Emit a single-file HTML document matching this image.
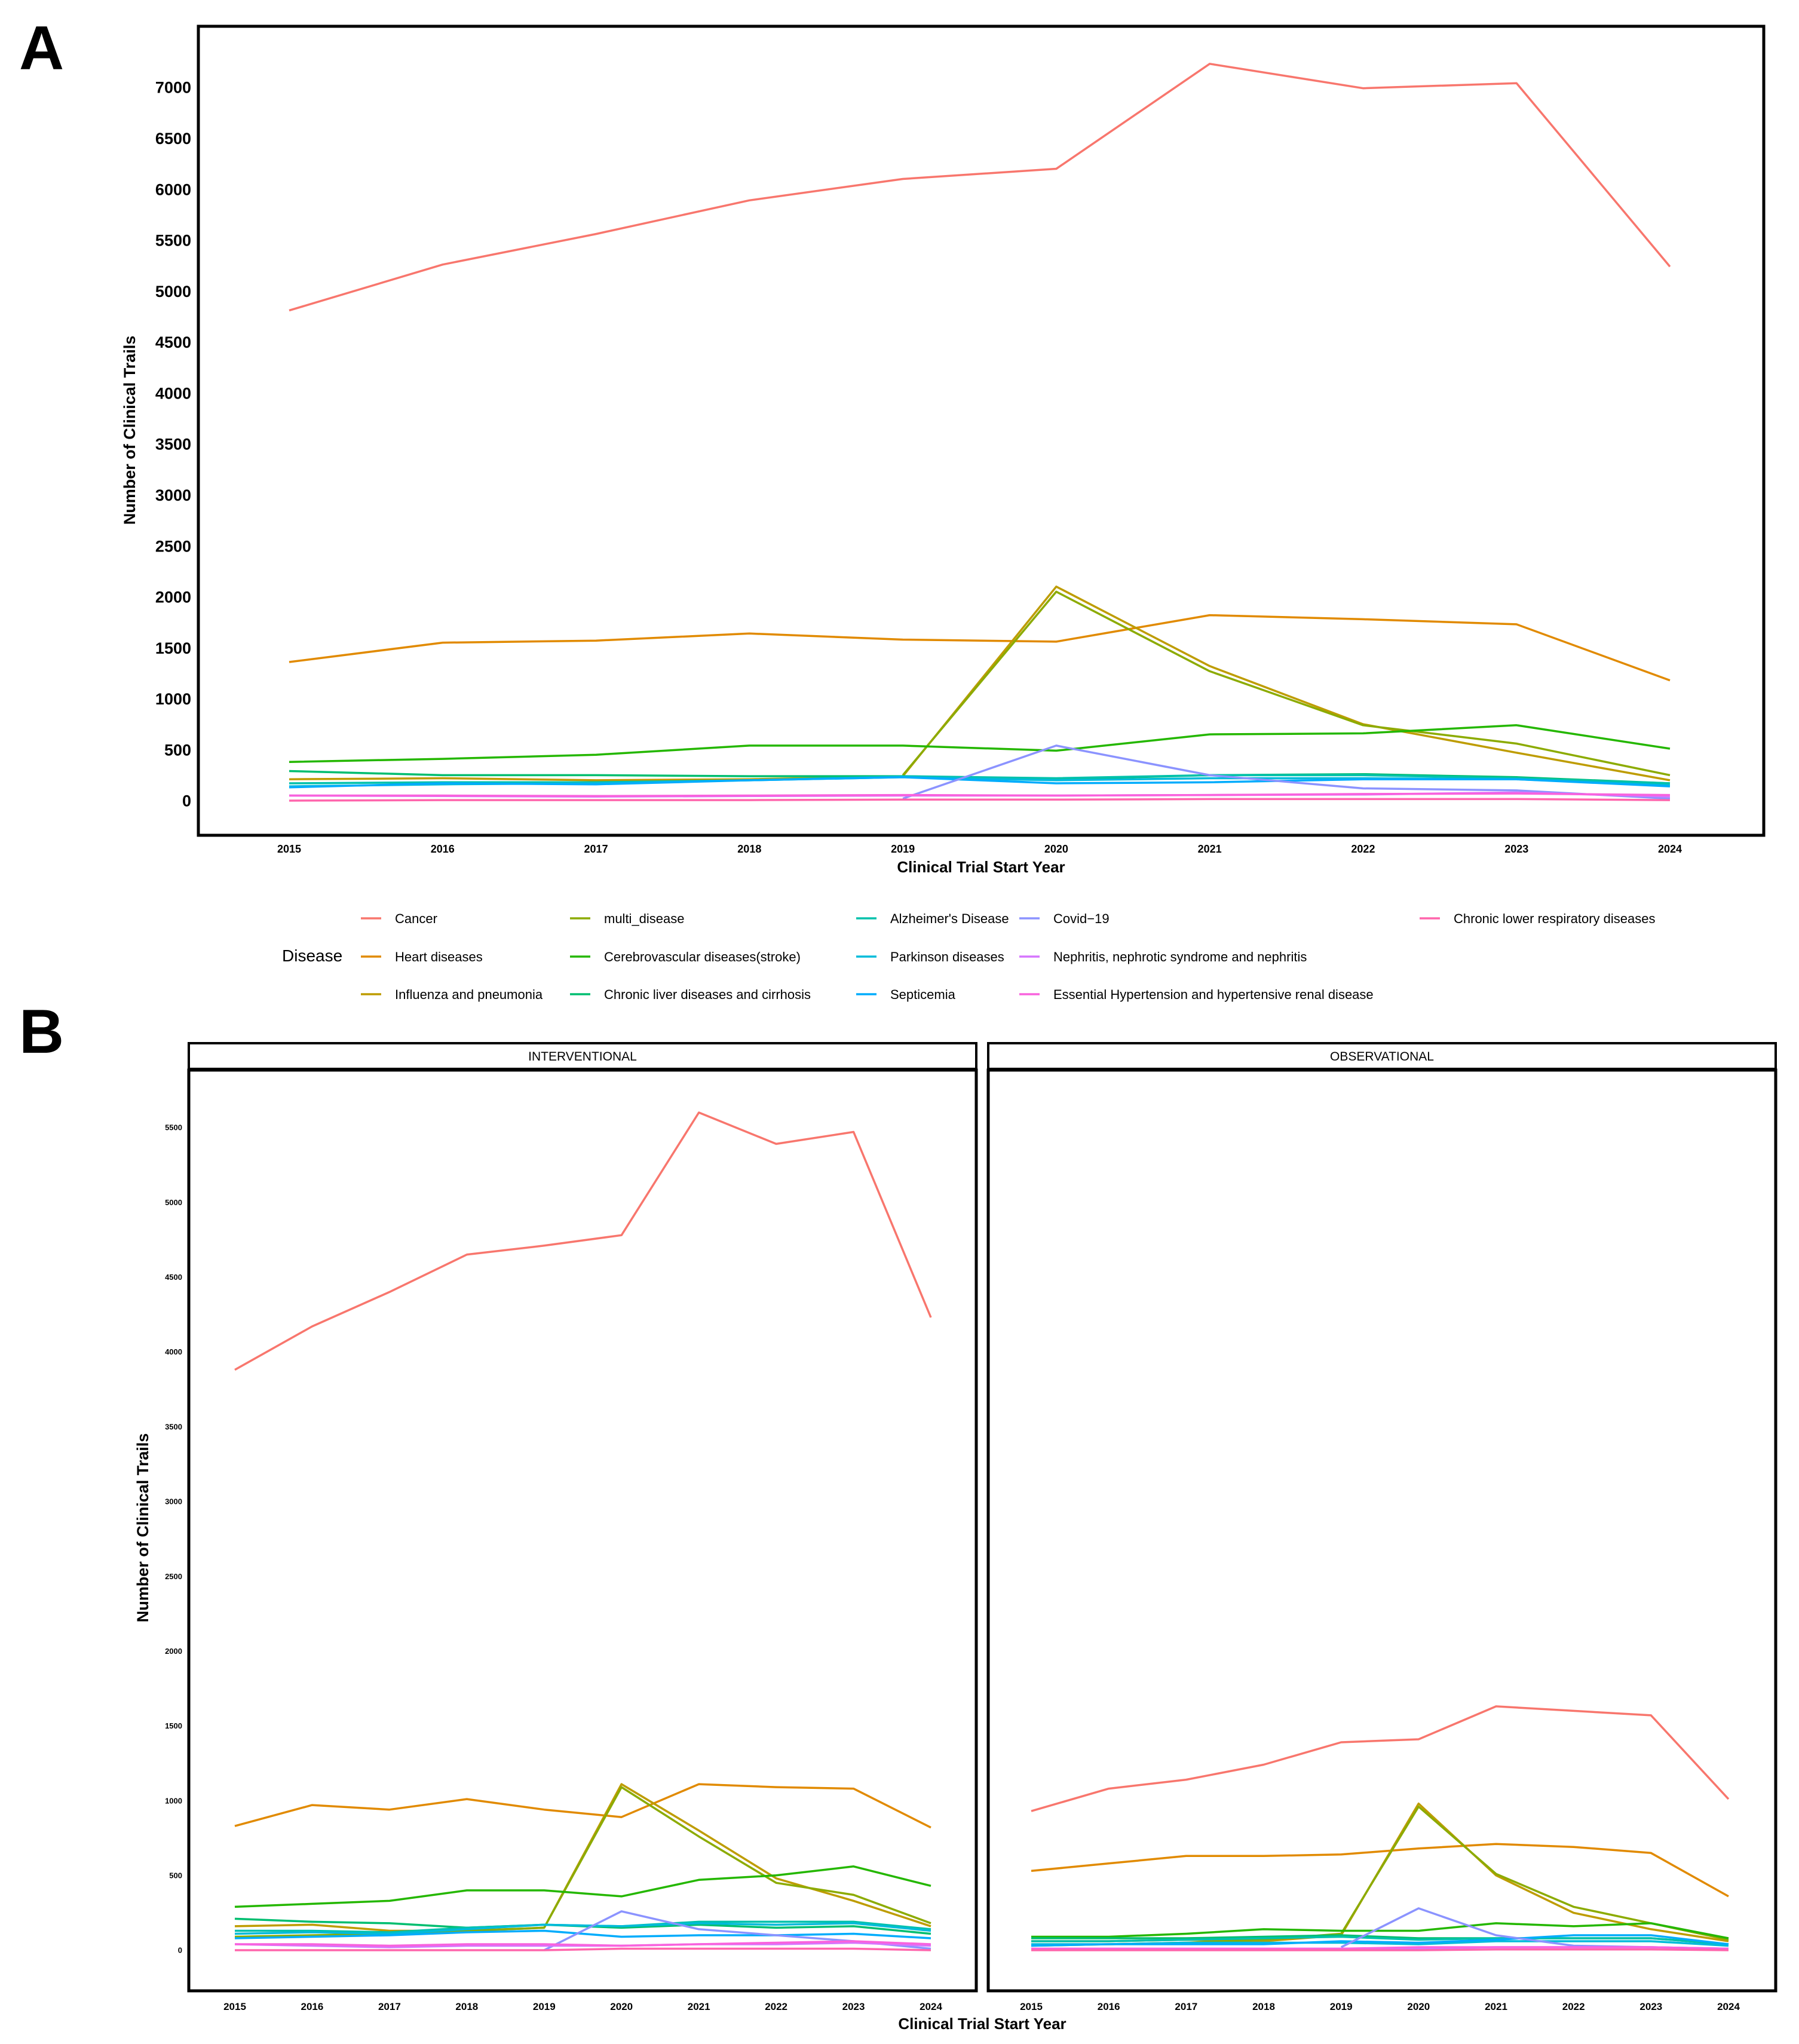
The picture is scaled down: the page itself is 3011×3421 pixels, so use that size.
<!DOCTYPE html>
<html><head><meta charset="utf-8"><style>
html,body{margin:0;padding:0;background:#fff}
svg{display:block;font-family:"Liberation Sans",sans-serif}
</style></head><body>
<svg id="c" width="3011" height="3421" viewBox="0 0 3011 3421" xmlns="http://www.w3.org/2000/svg"></svg>
<script>
const years=[2015,2016,2017,2018,2019,2020,2021,2022,2023,2024];
const diseases=["Cancer","Heart diseases","Influenza and pneumonia","multi_disease","Cerebrovascular diseases(stroke)","Chronic liver diseases and cirrhosis","Alzheimer's Disease","Parkinson diseases","Septicemia","Covid\u221219","Nephritis, nephrotic syndrome and nephritis","Essential Hypertension and hypertensive renal disease","Chronic lower respiratory diseases"];
const colors=["#F8766D","#E18A00","#BE9C00","#8CAB00","#24B700","#00BE70","#00C1AB","#00BBDA","#00ACFC","#8B93FF","#D575FE","#F962DD","#FF65AC"];
const N=null;
const allCancer=[4810,5260,5560,5890,6100,6200,7230,6990,7040,5240];
const allHeart=[1360,1550,1570,1640,1580,1560,1820,1780,1730,1180];
const allInfluenza=[210,220,200,210,240,2100,1320,750,470,200];
const allMulti=[N,N,N,N,250,2050,1270,740,560,250];
const allCerebro=[380,410,450,540,540,490,650,660,740,510];
const allLiver=[290,250,250,240,240,210,250,260,230,170];
const allAlz=[170,180,180,200,240,220,250,250,220,170];
const allPark=[140,160,170,200,230,200,220,220,210,150];
const allSept=[130,170,160,200,230,170,180,210,210,140];
const allCovid=[N,N,N,N,20,540,250,120,100,20];
const allNeph=[50,45,40,45,50,50,55,60,80,40];
const allHyp=[50,50,45,50,55,50,55,65,70,55];
const allResp=[0,5,5,5,10,10,15,15,15,5];
const intCancer=[3880,4170,4400,4650,4710,4780,5600,5390,5470,4230];
const intHeart=[830,970,940,1010,940,890,1110,1090,1080,820];
const intInfluenza=[160,170,130,130,150,1110,800,480,330,160];
const intMulti=[90,100,110,130,150,1090,760,450,370,180];
const intCerebro=[290,310,330,400,400,360,470,500,560,430];
const intLiver=[210,190,180,150,170,150,170,150,160,110];
const intAlz=[130,130,120,150,170,160,190,190,190,140];
const intPark=[110,120,110,140,170,160,180,170,180,130];
const intSept=[80,90,100,120,130,90,100,100,110,80];
const intCovid=[N,N,N,N,0,260,140,100,60,10];
const intNeph=[40,30,20,30,30,30,40,40,50,30];
const intHyp=[40,40,30,40,40,30,40,50,60,40];
const intResp=[0,0,0,0,0,10,10,10,10,0];
const obsCancer=[930,1080,1140,1240,1390,1410,1630,1600,1570,1010];
const obsHeart=[530,580,630,630,640,680,710,690,650,360];
const obsInfluenza=[60,60,70,60,100,980,500,250,140,60];
const obsMulti=[30,40,50,70,110,960,510,290,180,70];
const obsCerebro=[90,90,110,140,130,130,180,160,180,80];
const obsLiver=[80,80,80,90,100,80,80,80,80,40];
const obsAlz=[60,60,70,80,90,70,80,80,80,40];
const obsPark=[40,40,50,50,50,40,60,60,60,30];
const obsSept=[30,40,40,40,60,50,70,100,100,40];
const obsCovid=[N,N,N,N,20,280,100,30,20,10];
const obsNeph=[10,10,10,10,10,10,20,20,20,10];
const obsHyp=[10,10,10,10,10,20,20,20,20,10];
const obsResp=[0,0,0,0,0,0,5,5,5,0];
const ticksA=[0,500,1000,1500,2000,2500,3000,3500,4000,4500,5000,5500,6000,6500,7000];
const ticksB=[0,500,1000,1500,2000,2500,3000,3500,4000,4500,5000,5500];

const NS="http://www.w3.org/2000/svg";
const svg=document.getElementById('c');
function mk(tag,attrs,parent,text){const e=document.createElementNS(NS,tag);for(const k in attrs)e.setAttribute(k,attrs[k]);if(text!=null)e.textContent=text;(parent||svg).appendChild(e);return e;}

function panel(name,series,box,x0,x1,yv0,yvTop,vTop,ticks,tickFs,tickRight,xLabY,xFs){
  const g=mk('g',{});
  
  
  const xs=v=>x0+(years.indexOf(v))*(x1-x0)/(years.length-1);
  const ys=v=>yv0-v*(yv0-yvTop)/vTop;
  series.forEach((s,i)=>{
    let d='';let pen=false;
    s.forEach((v,j)=>{if(v==null){pen=false;return;}d+=(pen?'L':'M')+xs(years[j]).toFixed(1)+' '+ys(v).toFixed(1)+' ';pen=true;});
    const p=mk('path',{d:d,fill:'none',stroke:colors[i],'stroke-width':3.5,'stroke-linejoin':'round'},g);
    
    
  });
  mk('rect',{x:box[0],y:box[1],width:box[2]-box[0],height:box[3]-box[1],fill:'none',stroke:'#000','stroke-width':5},g);
  ticks.forEach(t=>{
    if(tickRight!=null){
      const tl=mk('text',{x:tickRight,y:ys(t)+tickFs*0.36,'font-size':tickFs,'font-weight':'bold','text-anchor':'end'},g,String(t));
      
      
    }
  });
  years.forEach(y=>{
    const tl=mk('text',{x:xs(y),y:xLabY,'font-size':xFs,'font-weight':'bold','text-anchor':'middle'},g,String(y));
    
    
  });
}

// Panel A
const tA=mk('text',{x:32,y:116,'font-size':104,'font-weight':900},svg,'A');


panel('panel-a',[allCancer,allHeart,allInfluenza,allMulti,allCerebro,allLiver,allAlz,allPark,allSept,allCovid,allNeph,allHyp,allResp],
  [332,44,2952,1398],484,2795,1340,146,7000,ticksA,27,320,1427,18);
const xa=mk('text',{x:1642,y:1460,'font-size':26,'font-weight':'bold','text-anchor':'middle'},svg,'Clinical Trial Start Year');


const ya=mk('text',{x:0,y:0,'font-size':27,'font-weight':'bold','text-anchor':'middle',transform:'translate(226,720) rotate(-90)'},svg,'Number of Clinical Trails');



// Legend
const leg=mk('g',{});


const lt=mk('text',{x:472,y:1609,'font-size':28},leg,'Disease');


const colX=[604,954,1433,1706,2376];
const rowY=[1537,1601,1664];
const layout=[[0,0],[0,1],[0,2],[1,0],[1,1],[1,2],[2,0],[2,1],[2,2],[3,0],[3,1],[3,2],[4,0]];
layout.forEach((cr,i)=>{
  const e=mk('g',{},leg);
  
  
  const x=colX[cr[0]],y=rowY[cr[1]];
  mk('line',{x1:x,y1:y,x2:x+34,y2:y,stroke:colors[i],'stroke-width':3.5},e);
  mk('text',{x:x+57,y:y+8,'font-size':22},e,diseases[i]);
});

// Panel B
const tB=mk('text',{x:32,y:1762,'font-size':104,'font-weight':900},svg,'B');


[[316,1634,'INTERVENTIONAL'],[1654,2972,'OBSERVATIONAL']].forEach(s=>{
  const g=mk('g',{});
  
  
  mk('rect',{x:s[0],y:1746,width:s[1]-s[0],height:43,fill:'#fff',stroke:'#000','stroke-width':4},g);
  mk('text',{x:(s[0]+s[1])/2,y:1775,'font-size':21,'text-anchor':'middle'},g,s[2]);
});
panel('panel-b-interventional',[intCancer,intHeart,intInfluenza,intMulti,intCerebro,intLiver,intAlz,intPark,intSept,intCovid,intNeph,intHyp,intResp],
  [316,1791,1634,3332],393,1558,3264,1887,5500,ticksB,13,305,3364,17);
panel('panel-b-observational',[obsCancer,obsHeart,obsInfluenza,obsMulti,obsCerebro,obsLiver,obsAlz,obsPark,obsSept,obsCovid,obsNeph,obsHyp,obsResp],
  [1654,1791,2972,3332],1726,2893,3264,1887,5500,ticksB,13,null,3364,17);
const xb=mk('text',{x:1644,y:3396,'font-size':26,'font-weight':'bold','text-anchor':'middle'},svg,'Clinical Trial Start Year');


const yb=mk('text',{x:0,y:0,'font-size':27,'font-weight':'bold','text-anchor':'middle',transform:'translate(248,2557) rotate(-90)'},svg,'Number of Clinical Trails');


</script>
</body></html>
